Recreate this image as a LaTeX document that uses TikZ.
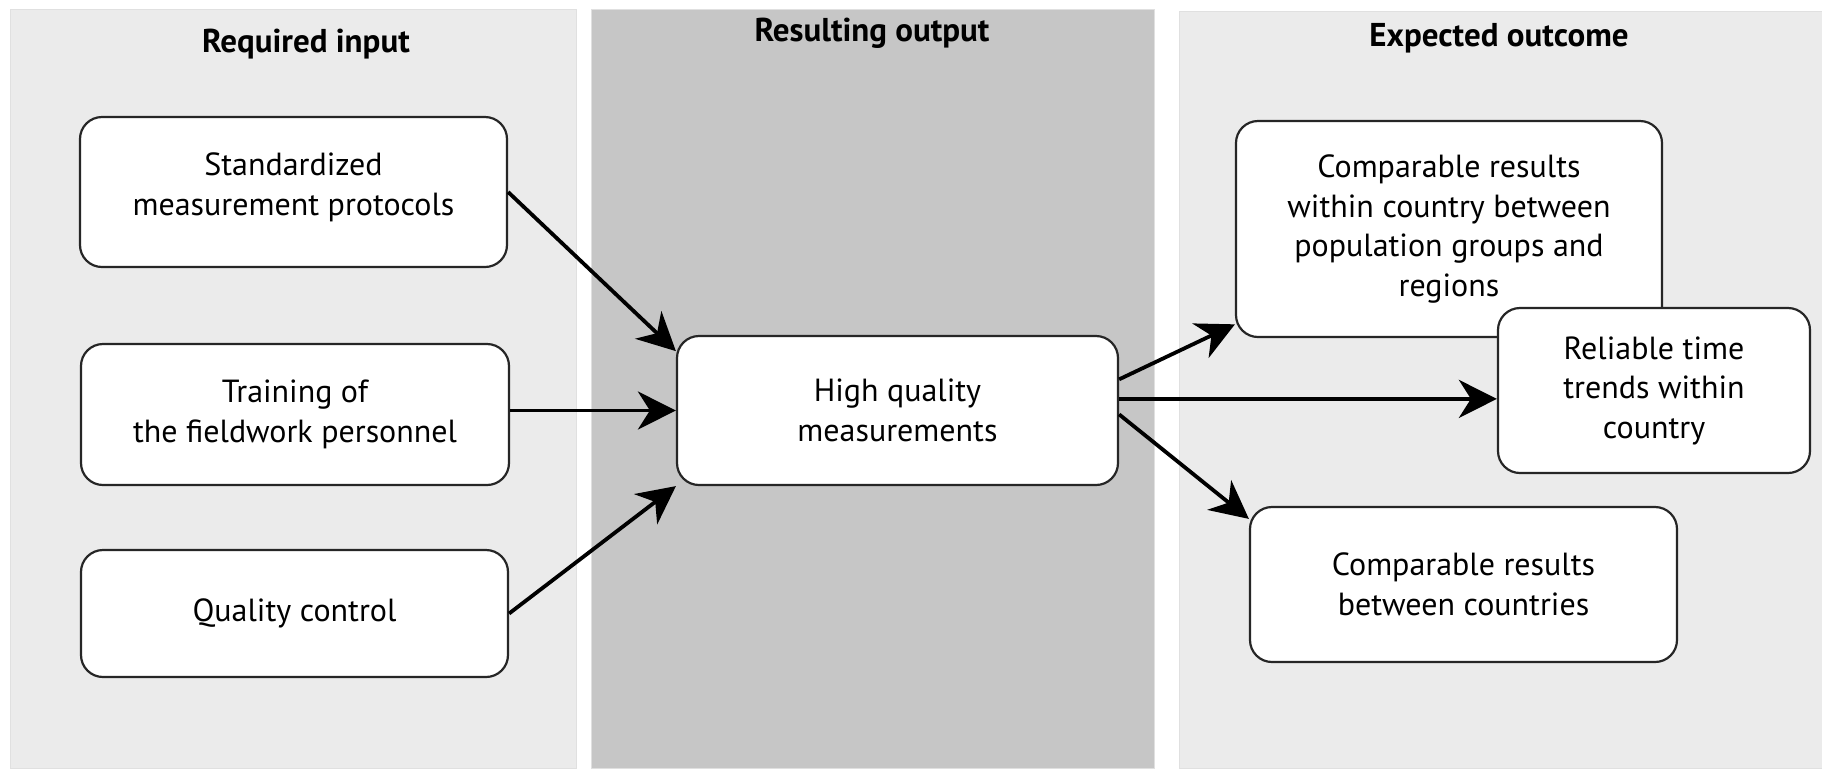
\documentclass[tikz,border=0pt]{standalone}
\usepackage{fontspec}
\setmainfont{PT Sans}
\usepackage{xcolor}
\usepackage{tikz}
\usetikzlibrary{positioning, arrows.meta}
\definecolor{panelgrey}{HTML}{EBEBEB}
\definecolor{outputgrey}{HTML}{C6C6C6}
\tikzset{
  panelbg/.style={
    fill=panelgrey,
    draw=black!12,
    line width=0.4pt
  },
  paneltitle/.style={
    font=\fontsize{16.5}{19.5}\selectfont\bfseries,
    inner sep=0pt
  },
  stagebox/.style={
    rectangle,
    draw=black!85,
    fill=white,
    rounded corners=11pt,
    line width=1.1pt,
    align=center,
    font=\fontsize{16}{19.75}\selectfont,
    inner sep=0pt
  },
  flowarrow/.style={
    -{Stealth[length=19pt, width=19pt, inset=6pt]},
    line width=1.9pt
  }
}

\begin{document}
\begin{tikzpicture}[x=0.5pt, y=-0.5pt]
  \useasboundingbox[fill=white] (0,0) rectangle (1822,768);
  % panels
  \path[panelbg] (10,9) rectangle (576,768);
  \path[panelbg, fill=outputgrey] (591,9) rectangle (1154,768);
  \path[panelbg] (1179,11) rectangle (1822,768);
  \node[paneltitle] (inhead) at (306,44) {Required input};
  \node[paneltitle] (outhead) at (872,33) {Resulting output};
  \node[paneltitle] (endhead) at (1499,38) {Expected outcome};

  % input boxes
  \node[stagebox, minimum width=213.5pt, minimum height=75pt] (std) at (293.5,192)
    {Standardized\\measurement protocols\\[-12pt]};
  \node[stagebox, minimum width=214pt, minimum height=70.5pt] (train) at (295,414.5)
    {Training of\\the fieldwork personnel};
  \node[stagebox, minimum width=213.5pt, minimum height=63.5pt] (qual) at (294.5,613.5)
    {Quality control};

  % output box
  \node[stagebox, minimum width=220.5pt, minimum height=74.5pt] (meas) at (897.5,410.5)
    {High quality\\measurements};

  % outcome boxes
  \node[stagebox, minimum width=213pt, minimum height=108pt] (within) at (1449,229)
    {Comparable results\\within country between\\population groups and\\regions};
  \node[stagebox, minimum width=156pt, minimum height=82.5pt] (trends) at (1654,390.5)
    {Reliable time\\trends within\\country};
  \node[stagebox, minimum width=213.5pt, minimum height=77.5pt] (between) at (1463.5,584.5)
    {Comparable results\\between countries};

  % arrows
  \draw[flowarrow] (std.east) -- (meas.165);
  \draw[flowarrow] (meas.west -| train.east) -- (meas.west);
  \draw[flowarrow] (qual.east) -- (meas.south west);
  \draw[flowarrow] (meas.8) -- (within.204);
  \draw[flowarrow] (meas.3) -- (meas.3 -| trends.west);
  \draw[flowarrow] (meas.-1) -- (between.163);
\end{tikzpicture}
\end{document}
